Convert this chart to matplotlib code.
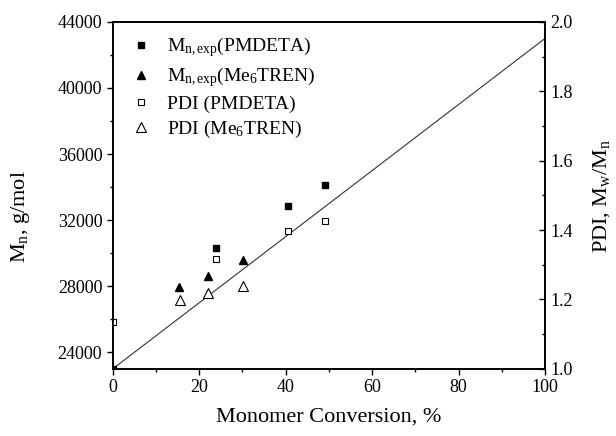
import matplotlib
matplotlib.use("Agg")
import matplotlib.pyplot as plt
from matplotlib.ticker import MultipleLocator

plt.rcParams["font.family"] = ["Liberation Serif", "DejaVu Serif"]
plt.rcParams["mathtext.fontset"] = "custom"
plt.rcParams["mathtext.rm"] = "Liberation Serif"
plt.rcParams["mathtext.it"] = "Liberation Serif:italic"
plt.rcParams["font.size"] = 13

# Mn (left axis)
conv_mn_pmdeta = [0, 23.8, 40.5, 49.0]
mn_pmdeta = [23000, 30300, 32830, 34120]
conv_mn_me6 = [15.3, 22.0, 30.2]
mn_me6 = [27960, 28600, 29580]

# PDI (right axis)
conv_pdi_pmdeta = [0, 23.8, 40.5, 49.0]
pdi_pmdeta = [1.135, 1.316, 1.397, 1.426]
conv_pdi_me6 = [15.5, 22.0, 30.2]
pdi_me6 = [1.199, 1.218, 1.238]

# theoretical Mn line
conv_theory = [0, 100]
mn_theory = [23000, 43000]

fig = plt.figure(figsize=(6.16, 4.36), dpi=100)
ax = fig.add_axes([0.183, 0.154, 0.702, 0.796])
ax2 = ax.twinx()

ax.plot(conv_theory, mn_theory, color="#333333", lw=0.8)
h1, = ax.plot(conv_mn_pmdeta, mn_pmdeta, "s", color="black", ms=4.5,
              label=r"M$_{\mathrm{n,exp}}$(PMDETA)")
h2, = ax.plot(conv_mn_me6, mn_me6, "^", color="black", ms=6,
              label=r"M$_{\mathrm{n,exp}}$(Me$_{6}$TREN)")
h3, = ax2.plot(conv_pdi_pmdeta, pdi_pmdeta, "s", mfc="white", mec="black",
               mew=0.8, ms=5, label="PDI (PMDETA)")
h4, = ax2.plot(conv_pdi_me6, pdi_me6, "^", mfc="white",
               mec="black", mew=0.8, ms=6.5, label=r"PDI (Me$_{6}$TREN)")

ax.set_xlim(0, 100)
ax.set_ylim(23000, 44000)
ax2.set_ylim(1.0, 2.0)

ax.xaxis.set_major_locator(MultipleLocator(20))
ax.xaxis.set_minor_locator(MultipleLocator(10))
ax.yaxis.set_major_locator(MultipleLocator(4000))
ax.yaxis.set_minor_locator(MultipleLocator(2000))
ax2.yaxis.set_major_locator(MultipleLocator(0.2))
ax2.yaxis.set_minor_locator(MultipleLocator(0.1))

ax.tick_params(axis="both", which="both", direction="out", top=False, right=False)
ax.tick_params(which="major", length=4, width=1)
ax.tick_params(which="minor", length=2.5, width=1)
ax2.tick_params(which="both", direction="in", width=1)
ax2.tick_params(which="major", length=4)
ax2.tick_params(which="minor", length=2.5)

for a in (ax, ax2):
    for s in a.spines.values():
        s.set_linewidth(1.2)

ax.set_xlabel("Monomer Conversion, %", fontsize=16, labelpad=8)
ax.set_ylabel(r"M$_{\mathrm{n}}$, g/mol", fontsize=16)
ax2.set_ylabel(r"PDI, M$_{\mathrm{w}}$/M$_{\mathrm{n}}$", fontsize=16)
ax.yaxis.set_label_coords(-0.187, 0.44)
ax2.yaxis.set_label_coords(1.106, 0.5)

ax.legend(handles=[h1, h2, h3, h4], loc="upper left", frameon=False,
          handletextpad=0.6, borderaxespad=0.3, labelspacing=0.3,
          handlelength=1.5, bbox_to_anchor=(0.0, 1.0), fontsize=14)

fig.savefig("out.png", dpi=100)
